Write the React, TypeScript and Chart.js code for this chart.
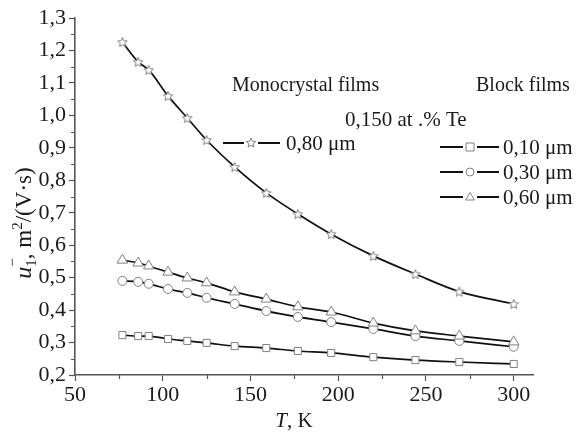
import { useEffect, useRef } from 'react';
import { Chart, registerables } from 'chart.js';
Chart.register(...registerables);

const temperatureK = [77, 86, 92, 103, 114, 125, 141, 159, 177, 196, 220, 244, 269, 300];
const mono080 = [1.226, 1.165, 1.14, 1.06, 0.992, 0.924, 0.841, 0.761, 0.696, 0.634, 0.567, 0.511, 0.457, 0.419];
const block060 = [0.554, 0.545, 0.536, 0.517, 0.499, 0.484, 0.456, 0.434, 0.41, 0.394, 0.36, 0.336, 0.32, 0.302];
const block030 = [0.49, 0.487, 0.481, 0.465, 0.453, 0.438, 0.419, 0.397, 0.379, 0.363, 0.342, 0.32, 0.305, 0.287];
const block010 = [0.323, 0.32, 0.32, 0.311, 0.305, 0.299, 0.289, 0.283, 0.274, 0.268, 0.255, 0.246, 0.24, 0.234];

const xTickValues = [50, 100, 150, 200, 250, 300];
const xMinorValues = [75, 125, 175, 225, 275];
const yTickValues = [0.2, 0.3, 0.4, 0.5, 0.6, 0.7, 0.8, 0.9, 1.0, 1.1, 1.2, 1.3];
const yMinorValues = [0.25, 0.35, 0.45, 0.55, 0.65, 0.75, 0.85, 0.95, 1.05, 1.15, 1.25];

const headingMono = 'Monocrystal films';
const headingBlock = 'Block films';
const headingTe = '0,150 at .% Te';
const labelMono = '0,80 μm';
const labelsBlock = ['0,10 μm', '0,30 μm', '0,60 μm'];

const SERIF = '"Liberation Serif", "DejaVu Serif", serif';
const MARK = '#808080';
const AXIS = '#555';
const TEXT = '#1a1a1a';

function drawStar(ctx: CanvasRenderingContext2D, x: number, y: number, r: number) {
  ctx.save();
  ctx.beginPath();
  for (let i = 0; i < 10; i++) {
    const a = -Math.PI / 2 + (i * Math.PI) / 5;
    const rr = i % 2 === 0 ? r : r * 0.45;
    ctx.lineTo(x + rr * Math.cos(a), y + rr * Math.sin(a));
  }
  ctx.closePath();
  ctx.fillStyle = '#fff';
  ctx.fill();
  ctx.strokeStyle = MARK;
  ctx.lineWidth = 1;
  ctx.stroke();
  ctx.restore();
}

function starCanvas(r: number) {
  const s = Math.ceil(r * 2 + 4);
  const c = document.createElement('canvas');
  c.width = s;
  c.height = s;
  const ctx = c.getContext('2d')!;
  drawStar(ctx, s / 2, s / 2 + 0.5, r);
  return c;
}

function drawMarker(ctx: CanvasRenderingContext2D, kind: string, x: number, y: number, r: number) {
  if (kind === 'star') {
    drawStar(ctx, x, y, r);
    return;
  }
  ctx.save();
  ctx.fillStyle = '#fff';
  ctx.strokeStyle = MARK;
  ctx.lineWidth = 1;
  ctx.beginPath();
  if (kind === 'rect') {
    ctx.rect(x - r, y - r, 2 * r, 2 * r);
  } else if (kind === 'circle') {
    ctx.arc(x, y, r, 0, Math.PI * 2);
  } else if (kind === 'triangle') {
    ctx.moveTo(x, y - r * 1.15);
    ctx.lineTo(x + r * 1.1, y + r * 0.75);
    ctx.lineTo(x - r * 1.1, y + r * 0.75);
    ctx.closePath();
  }
  ctx.fill();
  ctx.stroke();
  ctx.restore();
}

function legendRow(ctx: CanvasRenderingContext2D, kind: string, x0: number, mx: number, x1: number, tx: number, y: number, label: string) {
  ctx.save();
  ctx.strokeStyle = '#111';
  ctx.lineWidth = 1.8;
  ctx.beginPath();
  ctx.moveTo(x0, y);
  ctx.lineTo(mx - 7, y);
  ctx.moveTo(mx + 7, y);
  ctx.lineTo(x1, y);
  ctx.stroke();
  ctx.restore();
  drawMarker(ctx, kind, mx, y, kind === 'star' ? 5 : 4);
  ctx.save();
  ctx.fillStyle = TEXT;
  ctx.font = `21px ${SERIF}`;
  ctx.textBaseline = 'middle';
  ctx.textAlign = 'left';
  ctx.fillText(label, tx, y + 1);
  ctx.restore();
}

const decorPlugin = {
  id: 'decor',
  afterDraw(chart: any) {
    const ctx: CanvasRenderingContext2D = chart.ctx;
    const xs = chart.scales.x;
    const ys = chart.scales.y;
    const area = chart.chartArea;
    // minor ticks
    ctx.save();
    ctx.strokeStyle = AXIS;
    ctx.lineWidth = 1.2;
    ctx.beginPath();
    xMinorValues.forEach((v) => {
      const px = Math.round(xs.getPixelForValue(v)) + 0.5;
      ctx.moveTo(px, area.bottom);
      ctx.lineTo(px, area.bottom + 4);
    });
    yMinorValues.forEach((v) => {
      const py = Math.round(ys.getPixelForValue(v)) + 0.5;
      ctx.moveTo(area.left, py);
      ctx.lineTo(area.left - 4, py);
    });
    ctx.stroke();
    ctx.restore();

    // headings
    ctx.save();
    ctx.fillStyle = TEXT;
    ctx.textBaseline = 'middle';
    ctx.font = `20px ${SERIF}`;
    ctx.textAlign = 'left';
    ctx.fillText(headingMono, 232, 86);
    ctx.fillText(headingBlock, 476, 86);
    ctx.font = `21px ${SERIF}`;
    ctx.fillText(headingTe, 345, 120);
    ctx.restore();

    legendRow(ctx, 'star', 223, 251, 280, 286, 143, labelMono);
    const kinds = ['rect', 'circle', 'triangle'];
    const rowsY = [147, 172, 197];
    labelsBlock.forEach((lab, i) => legendRow(ctx, kinds[i], 440, 470, 499, 503, rowsY[i], lab));

    // x title
    ctx.save();
    ctx.fillStyle = TEXT;
    ctx.textBaseline = 'alphabetic';
    ctx.font = `italic 21px ${SERIF}`;
    const tW = ctx.measureText('T').width;
    ctx.font = `21px ${SERIF}`;
    const kW = ctx.measureText(', K').width;
    const sx = 294 - (tW + kW) / 2;
    ctx.font = `italic 21px ${SERIF}`;
    ctx.fillText('T', sx, 427);
    ctx.font = `21px ${SERIF}`;
    ctx.fillText(', K', sx + tW, 427);
    ctx.restore();

    // y title
    ctx.save();
    ctx.translate(23, 223);
    ctx.rotate(-Math.PI / 2);
    ctx.fillStyle = TEXT;
    ctx.textBaseline = 'alphabetic';
    const big = `23px ${SERIF}`;
    const bigI = `italic 24px ${SERIF}`;
    const small = `15px ${SERIF}`;
    const parts: { t: string; f: string; dy: number; adv: boolean }[] = [
      { t: 'u', f: bigI, dy: 0, adv: true },
      { t: '−', f: small, dy: -14, adv: false },
      { t: '1', f: small, dy: 5, adv: true },
      { t: ', m', f: big, dy: 0, adv: true },
      { t: '2', f: small, dy: -9, adv: true },
      { t: '/(V·s)', f: big, dy: 0, adv: true },
    ];
    let total = 0;
    parts.forEach((p) => {
      ctx.font = p.f;
      if (p.adv) total += ctx.measureText(p.t).width;
    });
    let cx = -total / 2;
    const base = 8;
    parts.forEach((p) => {
      ctx.font = p.f;
      ctx.fillText(p.t, cx, base + p.dy);
      if (p.adv) cx += ctx.measureText(p.t).width;
    });
    ctx.restore();
  },
};

export default function App() {
  const ref = useRef<HTMLCanvasElement | null>(null);
  useEffect(() => {
    if (!ref.current) return;
    const star = starCanvas(5);
    const mk = (data: number[], style: any, radius: number) => ({
      data: temperatureK.map((t, i) => ({ x: t, y: data[i] })),
      borderColor: '#111',
      borderWidth: 1.7,
      backgroundColor: '#fff',
      pointBackgroundColor: '#fff',
      pointBorderColor: MARK,
      pointBorderWidth: 1,
      pointStyle: style,
      pointRadius: radius,
      tension: 0.3,
      cubicInterpolationMode: 'monotone' as const,
      fill: false,
    });
    const chart = new Chart(ref.current, {
      type: 'line',
      data: {
        datasets: [
          mk(mono080, star, 5),
          mk(block060, 'triangle', 6),
          mk(block030, 'circle', 4.5),
          mk(block010, 'rect', 5),
        ],
      },
      options: {
        animation: false,
        responsive: false,
        maintainAspectRatio: false,
        layout: { padding: { left: 0, right: 49, top: 18, bottom: 0 } },
        plugins: { legend: { display: false }, tooltip: { enabled: false } },
        scales: {
          x: {
            type: 'linear',
            min: 50,
            max: 311,
            afterBuildTicks: (s: any) => {
              s.ticks = xTickValues.map((v) => ({ value: v }));
            },
            afterFit: (s: any) => {
              s.height = 62;
            },
            ticks: {
              color: TEXT,
              font: { family: SERIF, size: 22 },
              padding: 1,
              maxRotation: 0,
              autoSkip: false,
              callback: (v: any) => String(v),
            },
            grid: { drawOnChartArea: false, drawTicks: true, tickLength: 6, tickColor: AXIS, tickWidth: 1.2 },
            border: { display: true, color: AXIS, width: 1.6 },
          },
          y: {
            type: 'linear',
            min: 0.2,
            max: 1.3,
            afterBuildTicks: (s: any) => {
              s.ticks = yTickValues.map((v) => ({ value: v }));
            },
            afterFit: (s: any) => {
              s.width = 75;
            },
            ticks: {
              color: TEXT,
              font: { family: SERIF, size: 22 },
              padding: 3,
              autoSkip: false,
              callback: (v: any) => Number(v).toFixed(1).replace('.', ','),
            },
            grid: { drawOnChartArea: false, drawTicks: true, tickLength: 6, tickColor: AXIS, tickWidth: 1.2 },
            border: { display: true, color: AXIS, width: 1.6 },
          },
        },
      },
      plugins: [decorPlugin],
    });
    return () => chart.destroy();
  }, []);
  return (
    <div style={{ position: 'absolute', left: 0, top: 0, width: 582, height: 437, background: '#fff' }}>
      <canvas ref={ref} width={582} height={437} style={{ display: 'block' }} />
    </div>
  );
}
